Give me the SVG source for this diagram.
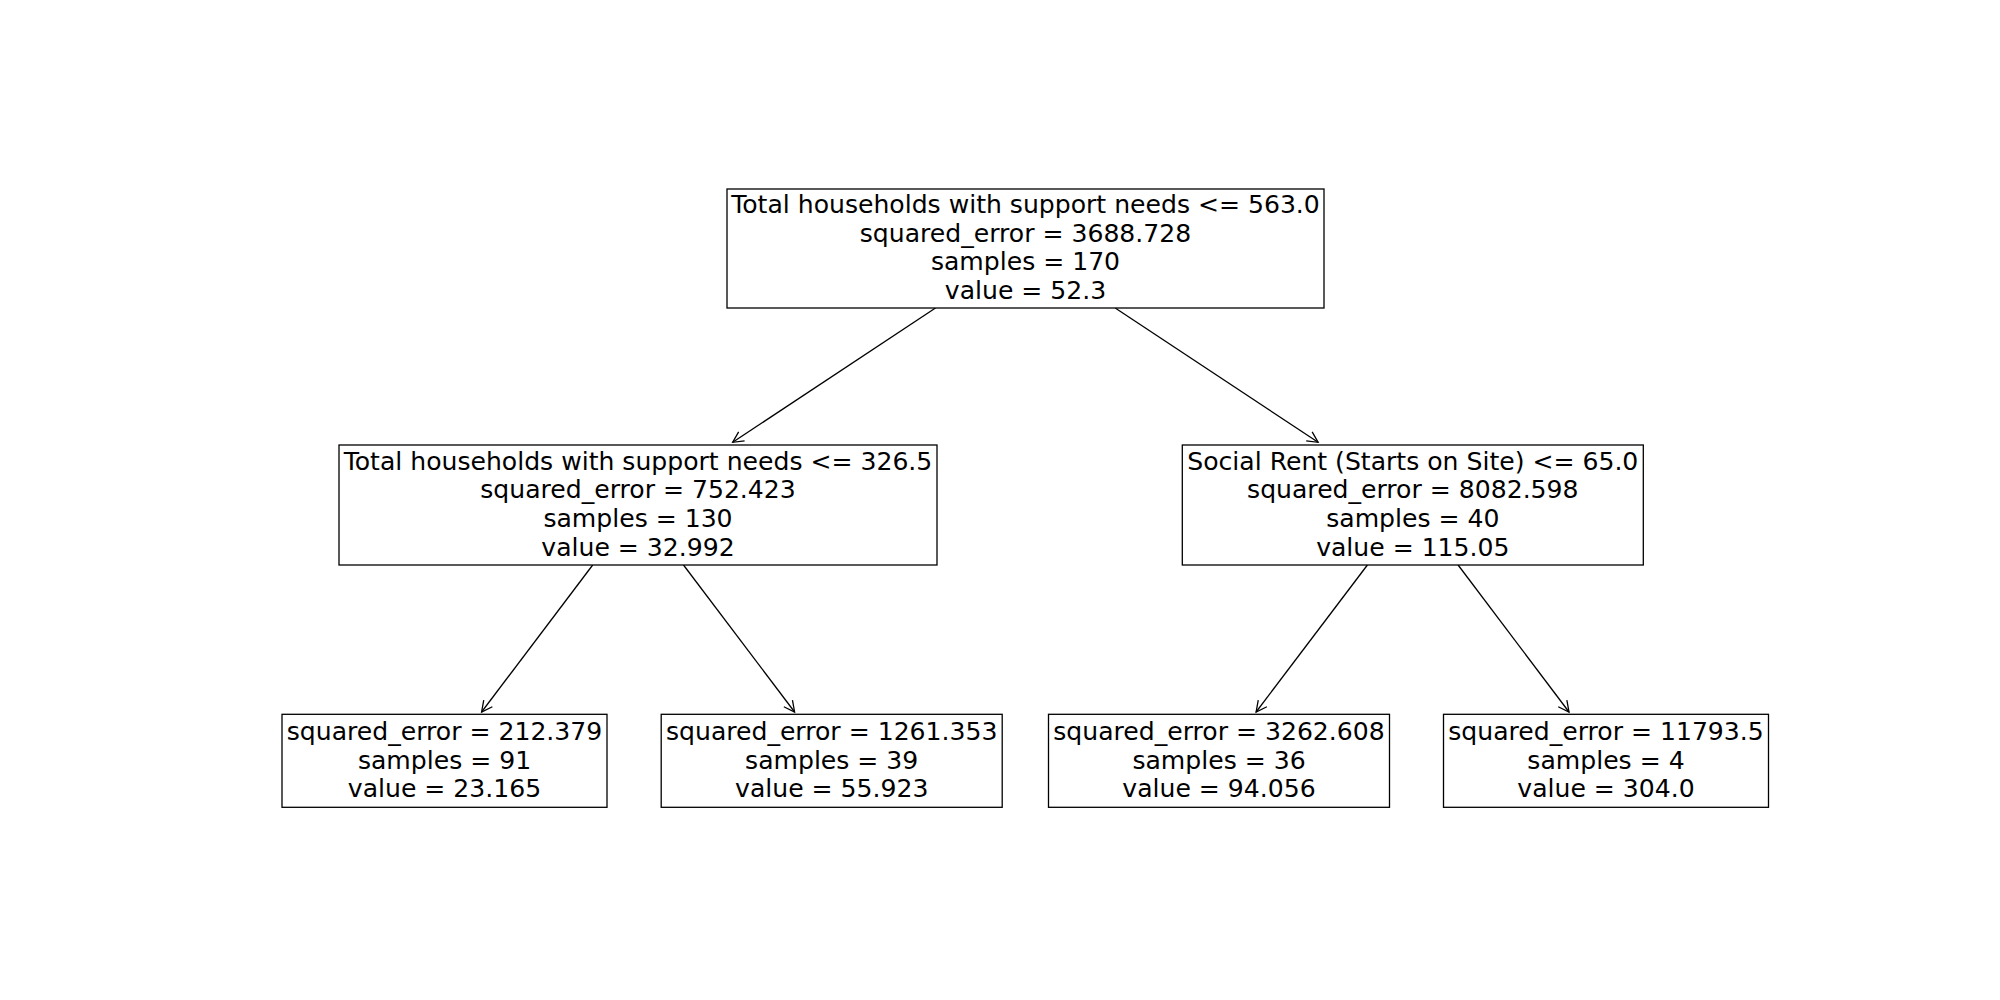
<svg xmlns="http://www.w3.org/2000/svg" width="2000" height="1000" viewBox="0 0 2000 1000">
<style>
.box{fill:#ffffff;stroke:#000000;stroke-width:1.3}
.t{font-family:"DejaVu Sans","Liberation Sans",sans-serif;font-size:25.1px;fill:#000000;text-anchor:middle}
.e{stroke:#000000;stroke-width:1.3;fill:none;marker-end:url(#ah)}
</style>
<defs>
<marker id="ah" markerUnits="userSpaceOnUse" orient="auto" markerWidth="14" markerHeight="14" viewBox="-12 -7 14 14" refX="0" refY="0" overflow="visible">
<path d="M -10.7 -5.4 L 0 0 L -10.7 5.4" fill="none" stroke="#000000" stroke-width="1.3"/>
</marker>
</defs>
<rect width="2000" height="1000" fill="#ffffff"/>
<g id="edges">
<line class="e" x1="935.5" y1="308" x2="732.7" y2="442.3"/>
<line class="e" x1="1115.2" y1="308" x2="1318.1" y2="442.3"/>
<line class="e" x1="592.7" y1="565" x2="481.6" y2="712"/>
<line class="e" x1="683.5" y1="565" x2="794.6" y2="712"/>
<line class="e" x1="1367.4" y1="565" x2="1256.1" y2="712"/>
<line class="e" x1="1458.1" y1="565" x2="1569.0" y2="712"/>
</g>
<g id="node0">
<rect class="box" x="727" y="189" width="597" height="119"/>
<text class="t" x="1025.5" y="213">Total households with support needs &lt;= 563.0</text>
<text class="t" x="1025.5" y="241.7">squared_error = 3688.728</text>
<text class="t" x="1025.5" y="270.4">samples = 170</text>
<text class="t" x="1025.5" y="299.1">value = 52.3</text>
</g>
<g id="node1">
<rect class="box" x="339" y="445" width="598" height="120"/>
<text class="t" x="638" y="469.5">Total households with support needs &lt;= 326.5</text>
<text class="t" x="638" y="498.2">squared_error = 752.423</text>
<text class="t" x="638" y="526.9">samples = 130</text>
<text class="t" x="638" y="555.6">value = 32.992</text>
</g>
<g id="node4">
<rect class="box" x="1182.3" y="445" width="461" height="120"/>
<text class="t" x="1412.8" y="469.5">Social Rent (Starts on Site) &lt;= 65.0</text>
<text class="t" x="1412.8" y="498.2">squared_error = 8082.598</text>
<text class="t" x="1412.8" y="526.9">samples = 40</text>
<text class="t" x="1412.8" y="555.6">value = 115.05</text>
</g>
<g id="node2">
<rect class="box" x="282" y="714.3" width="325" height="93"/>
<text class="t" x="444.5" y="740">squared_error = 212.379</text>
<text class="t" x="444.5" y="768.7">samples = 91</text>
<text class="t" x="444.5" y="797.4">value = 23.165</text>
</g>
<g id="node3">
<rect class="box" x="661.2" y="714.3" width="341" height="93"/>
<text class="t" x="831.7" y="740">squared_error = 1261.353</text>
<text class="t" x="831.7" y="768.7">samples = 39</text>
<text class="t" x="831.7" y="797.4">value = 55.923</text>
</g>
<g id="node5">
<rect class="box" x="1048.5" y="714.3" width="341" height="93"/>
<text class="t" x="1219" y="740">squared_error = 3262.608</text>
<text class="t" x="1219" y="768.7">samples = 36</text>
<text class="t" x="1219" y="797.4">value = 94.056</text>
</g>
<g id="node6">
<rect class="box" x="1443.5" y="714.3" width="325" height="93"/>
<text class="t" x="1606" y="740">squared_error = 11793.5</text>
<text class="t" x="1606" y="768.7">samples = 4</text>
<text class="t" x="1606" y="797.4">value = 304.0</text>
</g>
</svg>
